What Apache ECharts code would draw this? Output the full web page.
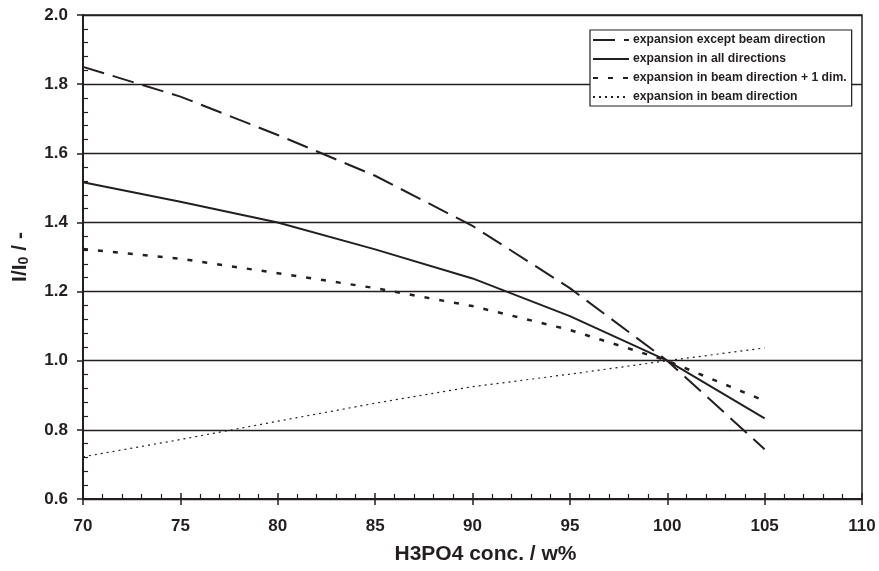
<!DOCTYPE html>
<html>
<head>
<meta charset="utf-8">
<script src="https://cdn.jsdelivr.net/npm/echarts@6/dist/echarts.min.js"></script>
<style>
  html, body { margin: 0; padding: 0; background: #fff; }
  #chart { width: 879px; height: 571px; }
</style>
</head>
<body>
<div id="chart"></div>
<script>
// H3PO4 concentration (w%) at which each curve is evaluated
const concentrations = [70, 75, 80, 85, 90, 95, 100, 105];

// Relative intensity I/I0 for each expansion model
const exceptBeam   = [1.850, 1.764, 1.653, 1.535, 1.390, 1.210, 1.000, 0.744];
const allDirs      = [1.516, 1.460, 1.400, 1.322, 1.238, 1.129, 1.000, 0.833];
const beamPlusOne  = [1.323, 1.295, 1.253, 1.210, 1.158, 1.089, 1.000, 0.884];
const beamOnly     = [0.722, 0.772, 0.825, 0.877, 0.925, 0.961, 1.000, 1.037];

const seriesNames = [
  'expansion except beam direction',
  'expansion in all directions',
  'expansion in beam direction + 1 dim.',
  'expansion in beam direction'
];

const xTicks = { min: 70, max: 110, interval: 5 };
const yTicks = { min: 0.6, max: 2.0, interval: 0.2 };

const ink = '#231f20';
const font = 'Liberation Sans, Arial, sans-serif';

function pairs(ys) {
  return concentrations.map((x, i) => [x, ys[i]]);
}

function lineSeries(name, ys, width, dash) {
  return {
    name: name,
    type: 'line',
    data: pairs(ys),
    symbol: 'none',
    smooth: false,
    xAxisIndex: 0,
    yAxisIndex: 0,
    lineStyle: { color: ink, width: width, type: dash, cap: 'butt' },
    itemStyle: { color: ink },
    emphasis: { disabled: true },
    z: 3
  };
}

const chart = echarts.init(document.getElementById('chart'), null, { renderer: 'canvas' });

chart.setOption({
  backgroundColor: '#ffffff',
  animation: false,
  grid: {
    left: 83, right: 17, top: 15, bottom: 72,
    show: true, borderColor: ink, borderWidth: 1.5, backgroundColor: 'transparent'
  },
  legend: {
    orient: 'vertical',
    left: 590, top: 30,
    itemWidth: 36, itemHeight: 10, itemGap: 7,
    padding: [4, 5, 3, 2],
    backgroundColor: '#ffffff',
    borderColor: ink, borderWidth: 1.2,
    // keep only the line sample, no marker dot
    itemStyle: { color: 'rgba(0,0,0,0)', borderColor: 'rgba(0,0,0,0)', borderWidth: 0, opacity: 0 },
    textStyle: { color: ink, fontFamily: font, fontWeight: 'bold', fontSize: 12.2, padding: [0, 0, 0, -1] },
    data: seriesNames
  },
  xAxis: [
    {
      type: 'value', position: 'bottom',
      min: xTicks.min, max: xTicks.max, interval: xTicks.interval,
      name: 'H3PO4 conc. / w%', nameLocation: 'middle', nameGap: 45,
      nameTextStyle: { color: ink, fontFamily: font, fontWeight: 'bold', fontSize: 21, padding: [0, 0, 0, 26] },
      axisLine: { onZero: false, lineStyle: { color: ink, width: 2 } },
      axisTick: { show: true, inside: false, length: 6, lineStyle: { color: ink, width: 1.5 } },
      axisLabel: { color: ink, fontFamily: font, fontWeight: 'bold', fontSize: 17, margin: 19 },
      splitLine: { show: false }
    },
    {
      // inward ticks: majors every 5, minors every 1
      type: 'value', position: 'bottom',
      min: xTicks.min, max: xTicks.max, interval: xTicks.interval,
      axisLine: { onZero: false, show: false },
      axisTick: { show: true, inside: true, length: 6, lineStyle: { color: ink, width: 1.5 } },
      minorTick: { show: true, splitNumber: 5, length: 5, lineStyle: { color: ink, width: 1.2 } },
      axisLabel: { show: false },
      splitLine: { show: false }
    }
  ],
  yAxis: [
    {
      type: 'value', position: 'left',
      min: yTicks.min, max: yTicks.max, interval: yTicks.interval,
      name: '{m|I/I}{sub|0}{m| / -}', nameLocation: 'middle', nameGap: 52, nameRotate: 90,
      nameTextStyle: {
        color: ink, fontFamily: font, fontWeight: 'bold', fontSize: 21,
        rich: {
          m: { color: ink, fontFamily: font, fontWeight: 'bold', fontSize: 21 },
          sub: { color: ink, fontFamily: font, fontWeight: 'bold', fontSize: 14, verticalAlign: 'bottom', padding: [8, 0, 0, 0] }
        }
      },
      axisLine: { onZero: false, lineStyle: { color: ink, width: 2 } },
      axisTick: { show: true, inside: false, length: 6, lineStyle: { color: ink, width: 1.5 } },
      axisLabel: {
        color: ink, fontFamily: font, fontWeight: 'bold', fontSize: 17, margin: 15,
        formatter: v => v.toFixed(1)
      },
      splitLine: { show: true, lineStyle: { color: ink, width: 1.3 } }
    },
    {
      // inward minor ticks, four between labelled values
      type: 'value', position: 'left',
      min: yTicks.min, max: yTicks.max, interval: yTicks.interval,
      axisLine: { onZero: false, show: false },
      axisTick: { show: false, inside: true },
      minorTick: { show: true, splitNumber: 5, length: 5, lineStyle: { color: ink, width: 1.2 } },
      axisLabel: { show: false },
      splitLine: { show: false }
    }
  ],
  series: [
    lineSeries(seriesNames[0], exceptBeam, 2, [22, 9]),
    lineSeries(seriesNames[1], allDirs, 2, 'solid'),
    lineSeries(seriesNames[2], beamPlusOne, 2.5, [5, 10]),
    lineSeries(seriesNames[3], beamOnly, 1.2, [2, 4])
  ]
});
</script>
</body>
</html>
